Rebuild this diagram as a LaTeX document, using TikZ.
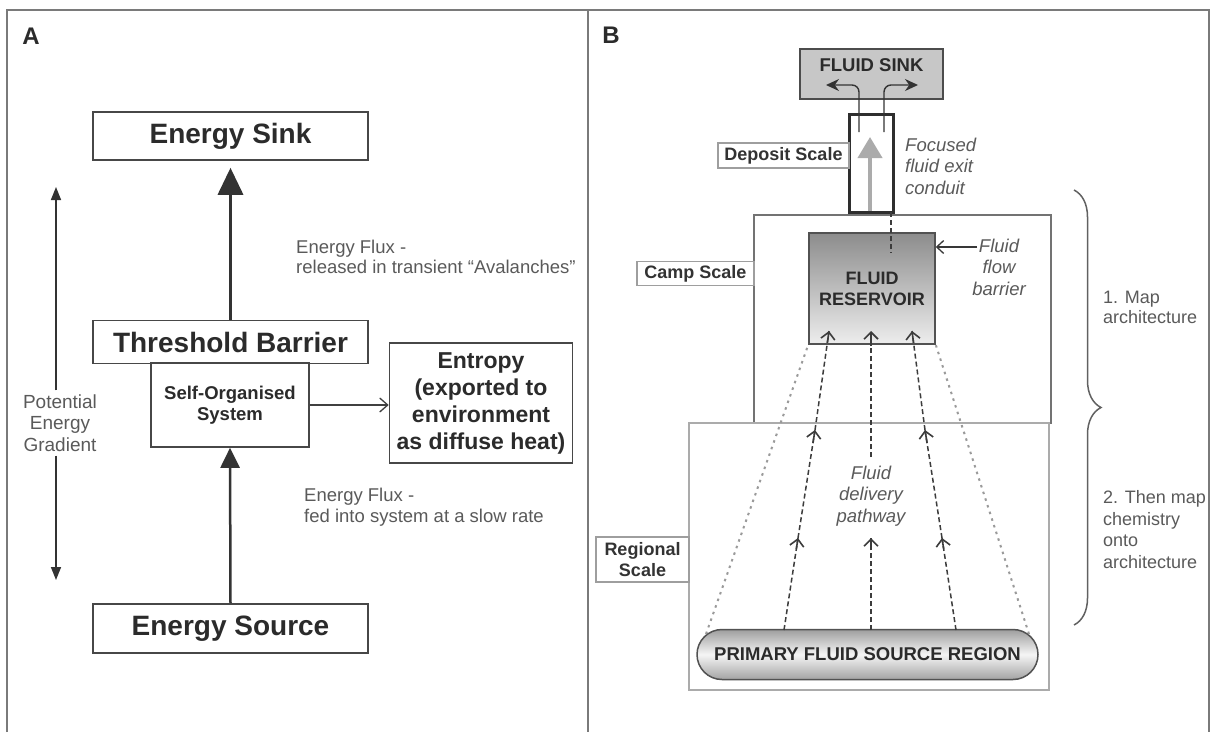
\documentclass[tikz,border=0pt]{standalone}
\usepackage{fontspec}
\setmainfont{Liberation Sans}
\usetikzlibrary{arrows.meta,decorations.pathreplacing,calc}
\definecolor{cTxt}{HTML}{2B2B2B}
\definecolor{cLbl}{HTML}{5A5A5A}
\definecolor{cFrm}{HTML}{7A7A7A}
\definecolor{cDash}{HTML}{3C3C3C}
\definecolor{cDot}{HTML}{9A9A9A}
\tikzset{
  boxA/.style={draw=black!72, line width=1.6pt, fill=white, text=cTxt, inner sep=0pt, align=center},
  bigtxt/.style={font=\bfseries\fontsize{28}{30}\selectfont},
  lbl/.style={text=cLbl, inner sep=0pt, align=left, font=\fontsize{18.5}{20.5}\selectfont},
  ilbl/.style={text=cLbl, inner sep=0pt, font=\itshape\fontsize{18.5}{21.5}\selectfont},
  scalelbl/.style={draw=black!38, line width=1.2pt, fill=white, text=black!80, inner sep=0pt, align=center, font=\bfseries\fontsize{18}{21}\selectfont},
  frameline/.style={draw=cFrm, line width=1.6pt},
  darkdash/.style={draw=cDash, line width=1.5pt, dash pattern=on 5pt off 3pt},
  outerdot/.style={draw=cDot, line width=2pt, dash pattern=on 2.5pt off 4.5pt},
  chevtip/.style={draw=cDash, line width=1.6pt, -{Straight Barb[length=7pt,width=14pt]}},
}
\begin{document}
\begin{tikzpicture}[x=1pt,y=-1pt]
\useasboundingbox (0,0) rectangle (1210,732);
\fill[white] (0,0) rectangle (1210,732);
% frame
\draw[frameline] (7,732) -- (7,10) -- (1209,10) -- (1209,732);
\draw[frameline, line width=2pt] (588,10) -- (588,732);
\node[font=\bfseries\fontsize{24}{26}\selectfont, text=cTxt] (labA) at (31,36) {A};
\node[font=\bfseries\fontsize{24}{26}\selectfont, text=cTxt] (labB) at (611,35) {B};

% ---------- Panel A ----------
\node[boxA, bigtxt, minimum width=275pt, minimum height=48pt] (esink) at (230.5,136) {Energy Sink};
\node[boxA, bigtxt, minimum width=275pt, minimum height=43pt] (thr) at (230.5,342) {Threshold Barrier};
\node[boxA, font=\bfseries\fontsize{18.5}{21}\selectfont, minimum width=158pt, minimum height=84pt] (sos) at (230,405) {Self-Organised\\System};
\node[boxA, font=\bfseries\fontsize{23}{27}\selectfont, minimum width=183pt, minimum height=120pt] (ent) at (481,403) {Entropy\\(exported to\\environment\\as diffuse heat)};
\node[boxA, bigtxt, minimum width=275pt, minimum height=49pt] (esrc) at (230.5,628.5) {Energy Source};

\draw[draw=black!80, line width=3.5pt, -{Triangle[length=27pt,width=25pt]}, shorten >=7pt] (thr.north) -- (esink.south);
\draw[draw=black!80, line width=2.5pt, -{Triangle[length=20pt,width=19pt]}] (esrc.north) -- (sos.south);
\draw[draw=black!75, line width=1.3pt, -{Straight Barb[length=8pt,width=14pt]}] (sos.east) -- (ent.west |- sos.east);

\node[text=cLbl, inner sep=0pt, align=center, font=\fontsize{19}{21.5}\selectfont] (grad) at (60,423) {Potential\\Energy\\Gradient};
\coordinate (gtop) at (56,187);
\coordinate (gbot) at (56,580);
\draw[draw=black!80, line width=1.5pt, -{Triangle[length=13pt,width=10pt]}, shorten <=4pt] (grad.north -| gtop) -- (gtop);
\draw[draw=black!80, line width=1.5pt, -{Triangle[length=13pt,width=10pt]}, shorten <=4pt] (grad.south -| gbot) -- (gbot);

\node[lbl, anchor=west] (flux1) at (296,257) {Energy Flux -\\released in transient “Avalanches”};
\node[lbl, anchor=west] (flux2) at (304,507) {Energy Flux -\\fed into system at a slow rate};

% ---------- Panel B ----------
% scale boxes
\node[draw=black!55, line width=2pt, minimum width=297pt, minimum height=208pt, inner sep=0pt] (camp) at (902.5,319) {};
\node[draw=black!33, line width=2.5pt, minimum width=360pt, minimum height=267pt, inner sep=0pt] (reg) at (869,556.5) {};
\node[scalelbl, minimum width=117pt, minimum height=24pt] (campl) at (695.5,273.5) {Camp Scale};
\node[scalelbl, minimum width=93pt, minimum height=45pt] (regl) at (642.5,559.5) {Regional\\Scale};

% fluid sink and conduit
\node[draw=black!70, line width=1.5pt, fill=black!22, minimum width=143pt, minimum height=50pt, inner sep=0pt] (fsink) at (871.5,74) {};
\node[text=cTxt, font=\bfseries\fontsize{18.5}{20}\selectfont, inner sep=0pt] (fsinkt) at (871.5,65) {FLUID SINK};
\node[draw=black!82, line width=3pt, fill=white, minimum width=44pt, minimum height=98pt, inner sep=0pt] (cond) at (871,163) {};
\coordinate (gbase) at (870,211);
\coordinate (gtip) at (870,137);
\draw[draw=black!33, line width=4pt, -{Triangle[length=21pt,width=24pt,color=black!33]}] (gbase) -- (gtip);
\coordinate (exL) at (859,132);
\coordinate (exLt) at (826,85);
\coordinate (exR) at (884,132);
\coordinate (exRt) at (918,85);
\draw[draw=black!80, line width=1.4pt, rounded corners=7pt, -{Stealth[length=13pt,width=12pt]}] (exL) |- (exLt);
\draw[draw=black!80, line width=1.4pt, rounded corners=7pt, -{Stealth[length=13pt,width=12pt]}] (exR) |- (exRt);
\node[scalelbl, minimum width=131pt, minimum height=25pt] (dep) at (783.5,155.5) {Deposit Scale};
\node[ilbl, anchor=west, align=left] (foc) at (905,166) {Focused\\fluid exit\\conduit};

% reservoir
\node[draw=black!68, line width=1.5pt, top color=black!45, bottom color=black!7, minimum width=126pt, minimum height=111pt, inner sep=0pt, text=cTxt, align=center, font=\bfseries\fontsize{18}{21}\selectfont] (res) at (872,288.5) {FLUID\\RESERVOIR};
\coordinate (cdb) at (891,212);
\coordinate (resin) at (891,253);
\draw[darkdash, line width=1.3pt] (cdb) -- (resin);
\coordinate (barr) at (977,247);
\draw[draw=black!78, line width=1.3pt, -{Straight Barb[length=7pt,width=13pt]}] (barr) -- (res.east |- barr);
\node[ilbl, align=center] (bart) at (999,267) {Fluid\\flow\\barrier};

% source region
\node[draw=black!68, line width=1.5pt, rounded corners=25pt, top color=black!38, bottom color=black!36, middle color=black!4, minimum width=341pt, minimum height=50pt, inner sep=0pt, text=cTxt, font=\bfseries\fontsize{18.5}{20}\selectfont] (src) at (867.5,654.5) {PRIMARY FLUID SOURCE REGION};

% delivery pathways
\coordinate (o1) at (706,634);
\coordinate (o5) at (1029,634);
\draw[outerdot] (o1) -- (res.south west);
\draw[outerdot] (o5) -- (res.south east);

\coordinate (s1) at (784,630);
\coordinate (a1) at (798,538);
\coordinate (b1) at (815,430);
\coordinate (e1) at (829,331);
\coordinate (s3) at (956,630);
\coordinate (a3) at (942,538);
\coordinate (b3) at (925,430);
\coordinate (e3) at (912,331);
\coordinate (s2) at (871,630);
\coordinate (a2) at (871,538);
\coordinate (b2) at (871,457);
\coordinate (e2) at (871,331);
\node[ilbl, align=center] (fdp) at (871,496) {Fluid\\delivery\\pathway};

\foreach \p/\q in {s1/a1, a1/b1, b1/e1, s3/a3, a3/b3, b3/e3, s2/a2, b2/e2} {
  \draw[darkdash] (\p) -- (\q);
  \draw[chevtip] ($(\p)!0.88!(\q)$) -- (\q);
}

% brace and notes
\coordinate (brt) at (1074,190);
\coordinate (brb) at (1074,625);
\draw[draw=black!62, line width=1.5pt, decorate, decoration={brace, amplitude=27pt}] (brt) -- (brb);
\node[lbl, anchor=west, font=\fontsize{18}{20}\selectfont] (map1) at (1103,307.5) {1. Map\\architecture};
\node[lbl, anchor=west, font=\fontsize{18}{21.7}\selectfont] (map2) at (1103,529.5) {2. Then map\\chemistry\\onto\\architecture};
\end{tikzpicture}
\end{document}
